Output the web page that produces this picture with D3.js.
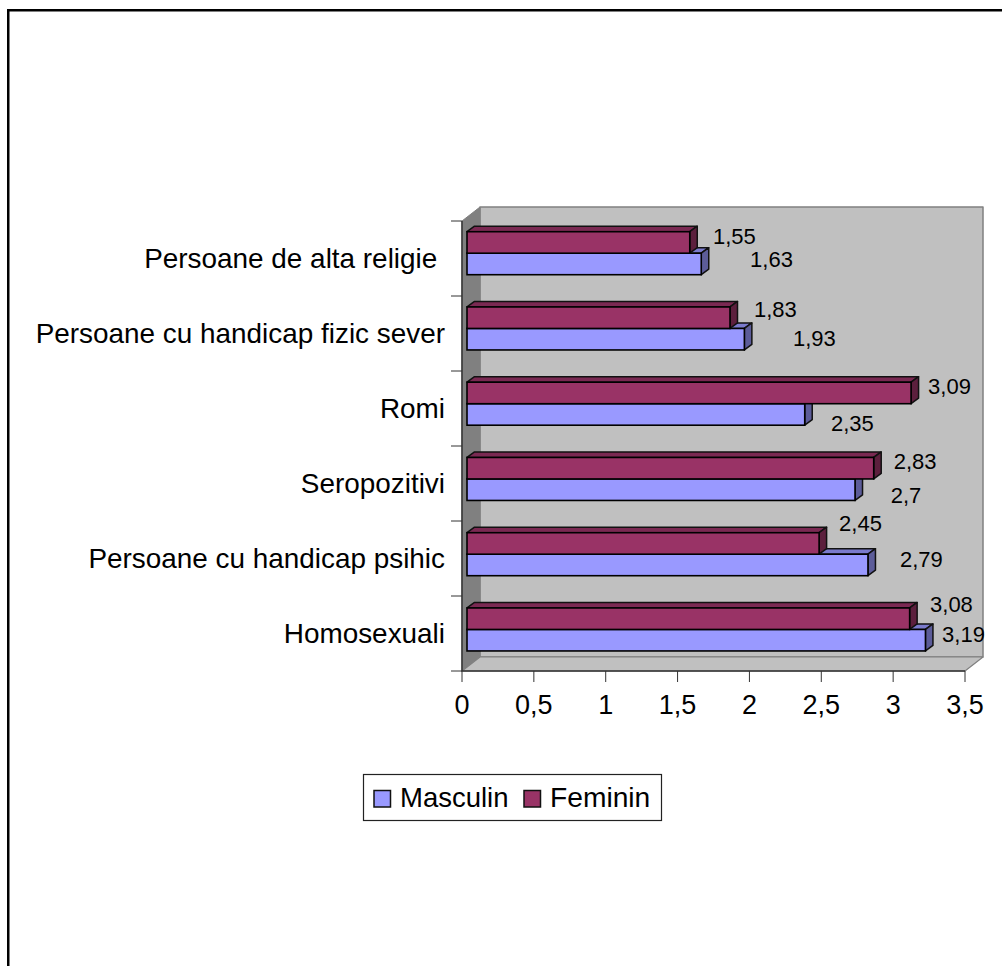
<!DOCTYPE html>
<html><head><meta charset="utf-8">
<script src="https://cdn.jsdelivr.net/npm/d3@7"></script>
<style>html,body{margin:0;padding:0;background:#fff;overflow:hidden}svg{display:block}text{font-family:"Liberation Sans",Arial,sans-serif;fill:#000}</style>
</head><body><svg id="c" width="1002" height="966"></svg>
<script>
const categories=["Persoane de alta religie ","Persoane cu handicap fizic sever","Romi","Seropozitivi","Persoane cu handicap psihic","Homosexuali"];
const masculin=[1.63,1.93,2.35,2.7,2.79,3.19];
const feminin=[1.55,1.83,3.09,2.83,2.45,3.08];
const xTicks=[0,0.5,1,1.5,2,2.5,3,3.5];
const seriesNames=["Masculin","Feminin"];
// label nudges (as placed in the original): dx from bar end, dy from band position to baseline
const mascNudge=[[48.8,2.7],[48.6,7],[26.3,16.7],[35.7,13.7],[32,2.7],[16.6,2.7]];
const femNudge=[[23.2,1.5],[24,0],[17,1.5],[20,1.5],[20,-11.5],[20.4,-5.7]];
const fmt=v=>String(v).replace(".",",");
const svg=d3.select("#c");
const W0=462,W1=965,T=221,B=671,DX=18,DY=-14,BX=5,dx=7.5,dy=-5.5;
const x=d3.scaleLinear().domain([0,3.5]).range([W0,W1]);
const y=d3.scaleBand().domain(categories).range([T,B]);
const yBar=d3.scaleBand().domain(categories).range([T,B+1.5]);
const poly=(p,f,s,w)=>svg.append("polygon").attr("points",p.map(q=>q.join(",")).join(" ")).attr("fill",f).attr("stroke",s||"none").attr("stroke-width",w||1).attr("stroke-linejoin","round");
// frame
svg.append("path").attr("d","M8.25,970V10.25H1004").attr("fill","none").attr("stroke","#000").attr("stroke-width",2.5);
// walls
poly([[W0+DX,T+DY],[W1+DX,T+DY],[W1+DX,B+DY],[W0+DX,B+DY]],"#c0c0c0","#808080",1.5);
poly([[W0,T],[W0+DX,T+DY],[W0+DX,B+DY],[W0,B]],"#808080","#808080",1);
poly([[W0,B],[W0+DX,B+DY],[W1+DX,B+DY],[W1,B]],"#c0c0c0","#808080",1.2);
// axes
svg.append("path").attr("d",`M${W0},${T}V${B}H${W1}`).attr("fill","none").attr("stroke","#333").attr("stroke-width",1.5);
const yTickVals=d3.range(categories.length+1).map(i=>T+i*y.step());
svg.selectAll("line.yt").data(yTickVals).join("line").attr("x1",W0-11).attr("x2",W0).attr("y1",d=>d).attr("y2",d=>d).attr("stroke","#333");
svg.selectAll("line.xt").data(xTicks).join("line").attr("x1",d=>x(d)).attr("x2",d=>x(d)).attr("y1",B).attr("y2",B+11).attr("stroke","#333");
svg.selectAll("text.xl").data(xTicks).join("text").attr("x",d=>x(d)).attr("y",714).attr("text-anchor","middle").attr("font-size",27).text(fmt);
svg.selectAll("text.yl").data(categories).join("text").attr("x",445).attr("y",d=>y(d)+y.bandwidth()/2+9).attr("text-anchor","end").attr("font-size",27.9).style("white-space","pre").text(d=>d);
// bars
const barH=21.5,pad=10.7;
function bar(xe,yt,front,top,side){
  const xs=W0+BX;
  poly([[xs,yt],[xs+dx,yt+dy],[xe+dx,yt+dy],[xe,yt]],top,"#111",1.5);
  poly([[xe,yt],[xe+dx,yt+dy],[xe+dx,yt+barH+dy],[xe,yt+barH]],side,"#111",1.5);
  svg.append("rect").attr("x",xs).attr("y",yt).attr("width",xe-xs).attr("height",barH).attr("fill",front).attr("stroke","#000").attr("stroke-width",1.6);
}
const xv=v=>x(v)+BX;
categories.forEach((c,i)=>{
  const t=yBar(c)+pad;
  bar(xv(masculin[i]),t+barH,"#9999ff","#7a7acc","#5c5c99");
  bar(xv(feminin[i]),t,"#993366","#7a2952","#5c1f3d");
});
categories.forEach((c,i)=>{
  const t=y(c)+pad;
  svg.append("text").attr("x",xv(feminin[i])+femNudge[i][0]).attr("y",t+barH/2+femNudge[i][1]).attr("font-size",22).text(fmt(feminin[i]));
  svg.append("text").attr("x",xv(masculin[i])+mascNudge[i][0]).attr("y",t+barH*1.5+mascNudge[i][1]).attr("font-size",22).text(fmt(masculin[i]));
});
// legend
svg.append("rect").attr("x",363.5).attr("y",774.5).attr("width",298).attr("height",46).attr("fill","#fff").attr("stroke","#222").attr("stroke-width",1.2);
const lx=[374,524],tx=[400,550],lc=["#9999ff","#993366"];
const ls=[27.5,28.2];
seriesNames.forEach((n,i)=>{
  svg.append("rect").attr("x",lx[i]).attr("y",790.5).attr("width",16.5).attr("height",16.5).attr("fill",lc[i]).attr("stroke","#111").attr("stroke-width",1.5);
  svg.append("text").attr("x",tx[i]).attr("y",806.5).attr("font-size",ls[i]).text(n);
});
</script></body></html>
